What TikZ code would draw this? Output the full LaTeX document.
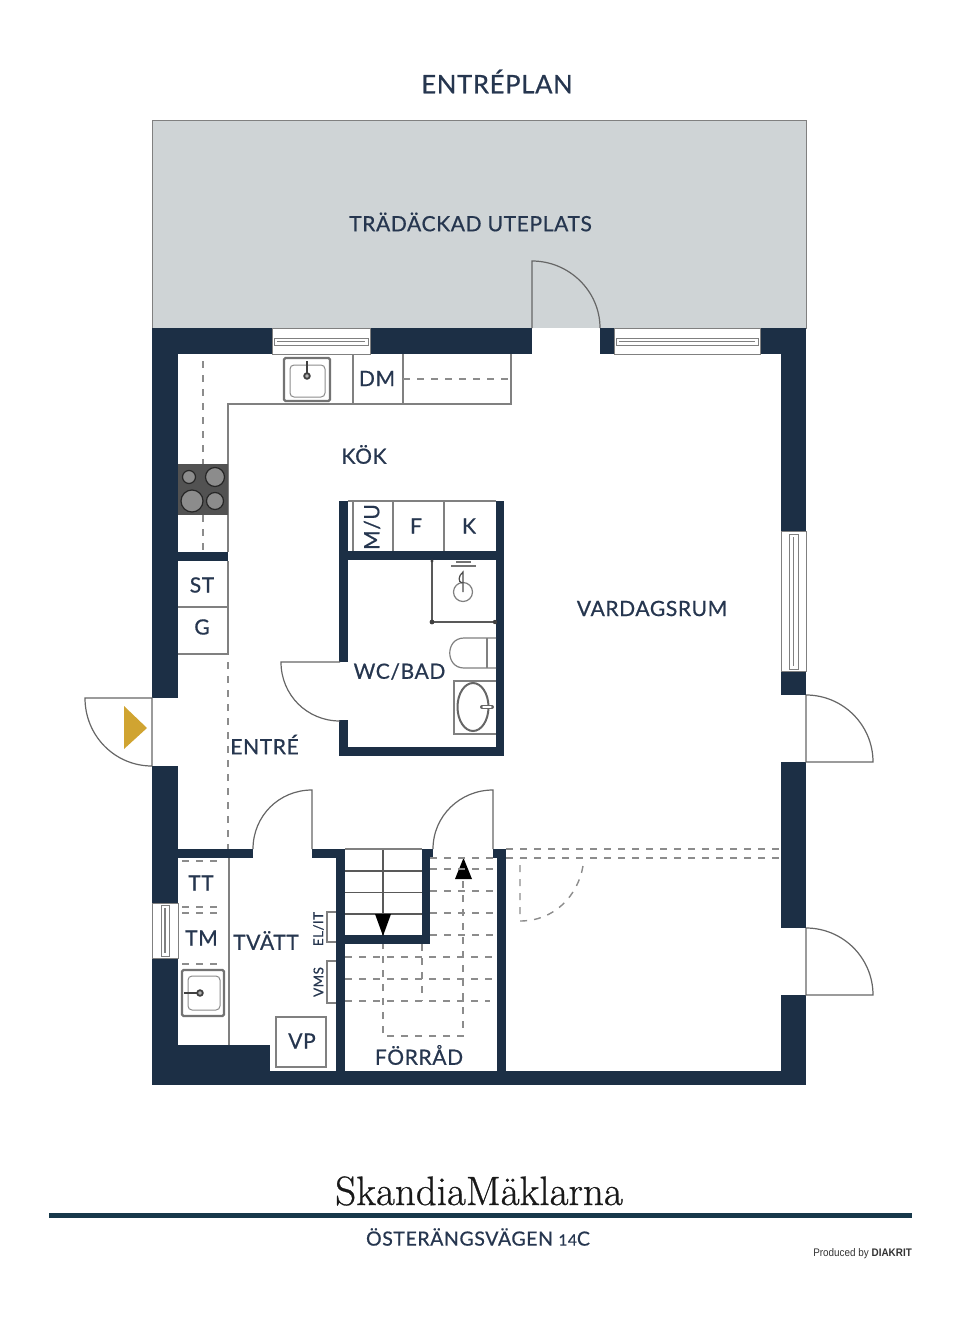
\documentclass[tikz,border=0pt]{standalone}
\usepackage{fontspec}
\newfontfamily\lato[LetterSpace=3,FakeBold=0.7]{Lato}
\newfontfamily\logofont[FakeBold=0.7]{Latin Modern Roman}
\newfontfamily\plain[FakeStretch=0.9]{Liberation Sans}
\definecolor{navy}{HTML}{1C2F45}
\definecolor{ink}{HTML}{26364F}
\definecolor{lin}{HTML}{808080}
\definecolor{deck}{HTML}{CFD4D6}
\definecolor{rule}{HTML}{17384A}
\definecolor{gold}{HTML}{D0A431}
\tikzset{
  wall/.style={fill=navy,draw=none},
  thin line/.style={draw=lin,line width=1.2pt},
  fixture/.style={draw=lin,line width=1.2pt,fill=white},
  dash line/.style={draw=black!45,line width=1.4pt,dash pattern=on 7pt off 7pt},
  win/.style={draw=lin,line width=0.9pt,fill=white},
  door/.style={draw=black!60,line width=1.2pt},
  roomlabel/.style={text=ink,font=\fontsize{21}{21}\selectfont\lato,inner sep=0pt,yshift=1pt},
  smalllabel/.style={text=ink,font=\fontsize{13.5}{14}\selectfont\lato,inner sep=0pt},
  burner/.style={draw=black!85,line width=1.2pt,fill=black!45},
  steel/.style={draw=black!55,line width=2.4pt,fill=white,rounded corners=1.5pt},
  steelin/.style={draw=black!45,line width=1pt,fill=white,rounded corners=4pt},
  tap/.style={draw=black!75,line width=1.8pt},
}
\begin{document}
\begin{tikzpicture}[x=1pt,y=-1pt]
\useasboundingbox (0,0) rectangle (960,1327);
% terrace
\draw[fill=deck,draw=lin,line width=1pt] (152,121) rectangle (806,328);
\fill[white] (532,328) rectangle (600,354);
% outer walls
\fill[wall] (152,328) rectangle (272,354);
\fill[wall] (370,328) rectangle (532,354);
\fill[wall] (600,328) rectangle (614,354);
\fill[wall] (760,328) rectangle (806,354);
\fill[wall] (152,328) rectangle (178,698);
\fill[wall] (152,766) rectangle (178,903);
\fill[wall] (152,958) rectangle (178,1085);
\fill[wall] (781,328) rectangle (806,531);
\fill[wall] (781,671) rectangle (806,695);
\fill[wall] (781,762) rectangle (806,928);
\fill[wall] (781,995) rectangle (806,1085);
\fill[wall] (152,1071) rectangle (806,1085);
\fill[wall] (178,1045) rectangle (270,1071);
% inner walls
\fill[wall] (178,552) rectangle (228,561);
\fill[wall] (178,849) rectangle (253,858);
\fill[wall] (312,849) rectangle (345,858);
\fill[wall] (336,849) rectangle (345,1071);
\fill[wall] (345,935) rectangle (430,944);
\fill[wall] (422,849) rectangle (430,944);
\fill[wall] (422,849) rectangle (433,858);
\fill[wall] (493,849) rectangle (506,858);
\fill[wall] (497,849) rectangle (506,1071);
% wc box
\fill[wall] (339,501) rectangle (348,662);
\fill[wall] (339,720) rectangle (348,756);
\fill[wall] (339,747) rectangle (504,756);
\fill[wall] (496,501) rectangle (504,756);
\fill[wall] (348,551) rectangle (496,560);
% windows
\draw[win] (272,328) rectangle (370,354);
\draw[win] (274,338) rectangle (368,345);
\draw[thin line] (277,341.5) -- (365,341.5);
\draw[win] (614,328) rectangle (760,354);
\draw[win] (616,338) rectangle (758,345);
\draw[thin line] (619,341.5) -- (755,341.5);
\draw[win] (781,531) rectangle (806,671);
\draw[win] (789,534) rectangle (798,669);
\draw[thin line] (793.5,537) -- (793.5,666);
\draw[win] (152,903) rectangle (178,958);
\draw[win] (161,905) rectangle (169,956);
\draw[thin line] (165,908) -- (165,953);
% kitchen counter
\draw[thin line] (228,552) -- (228,404) -- (511,404) -- (511,354);
\draw[thin line] (353,354) -- (353,404);
\draw[thin line] (403,354) -- (403,404);
\draw[dash line] (403,379) -- (511,379);
\draw[dash line] (203,361) -- (203,552);
% sink kitchen
\draw[steel] (284,358) rectangle (330,401);
\draw[steelin] (290,365) rectangle (325,397);
\draw[tap] (307,361) -- (307,374);
\draw[tap,fill=black!30] (307,376) circle[radius=2.8pt];
% stove
\fill[black!68] (178,464) rectangle (228,515);
\draw[burner] (189,477) circle[radius=6.5pt];
\draw[burner] (215,477) circle[radius=9.5pt];
\draw[burner] (192,501) circle[radius=11pt];
\draw[burner] (215,501) circle[radius=8.5pt];
% st g
\draw[thin line] (228,561) -- (228,654) -- (178,654);
\draw[thin line] (178,607) -- (228,607);
\draw[dash line] (228,662) -- (228,849);
% island cabinets
\draw[thin line] (348,501) -- (496,501);
\draw[thin line] (353,501) -- (353,551);
\draw[thin line] (393,501) -- (393,551);
\draw[thin line] (444,501) -- (444,551);
% shower
\draw[draw=black!65,line width=1.6pt] (432,560) -- (432,622) -- (496,622);
\fill[black!75] (432,622) circle[radius=2.4pt] (495,622) circle[radius=2.2pt] (432,561) circle[radius=1.6pt];
\draw[thin line] (463,592) circle[radius=9.5pt];
\draw[draw=black!70,line width=1.2pt] (463,592) -- (463,572) .. controls (458,576) and (458,582) .. (462,583);
\draw[draw=black!55,line width=2.2pt] (451,566) -- (476,566);
\draw[draw=black!55,line width=1.6pt] (456,562) -- (471,562);
% toilet
\draw[thin line] (496,638) -- (464,638) .. controls (445,638) and (445,668) .. (464,668) -- (496,668);
\draw[thin line] (487,638) -- (487,668);
% basin
\draw[thin line] (496,681) -- (454,681) -- (454,734) -- (496,734);
\draw[draw=black!60,line width=2pt] (473,707) ellipse[x radius=15.5pt,y radius=24pt];
\draw[draw=black!60,line width=4pt,line cap=round] (482,707) -- (492,707);
\draw[draw=white,line width=1.4pt,line cap=round] (483,707) -- (491,707);
% tvatt
\draw[thin line] (229,858) -- (229,1045);
\foreach \yy in {861,907,913,964} {\draw[dash line] (182,\yy) -- (221,\yy);}
\draw[steel] (182,970) rectangle (224,1016);
\draw[steelin] (188,976) rectangle (220,1010);
\draw[tap] (184,993) -- (198,993);
\draw[tap,fill=black!30] (200,993) circle[radius=2.8pt];
\draw[fixture] (276,1017) rectangle (326,1067);
\draw[thin line] (336,912) -- (327,912) -- (327,942) -- (336,942);
\draw[thin line] (336,961) -- (327,961) -- (327,1003) -- (336,1003);
% stairs
\draw[draw=black!65,line width=1.2pt] (383,849) -- (383,935);
\foreach \yy in {871,892.5,914} {\draw[draw=black!65,line width=1.2pt] (345,\yy) -- (422,\yy);}
\draw[thin line] (345,849) -- (422,849);
\fill[black] (375,914) -- (391,914) -- (383,936) -- cycle;
\fill[black] (455,879) -- (472,879) -- (463.5,858) -- cycle;
% stair dashes
\foreach \yy in {858,869,891,913,935} {\draw[dash line] (430,\yy) -- (493,\yy);}
\foreach \yy in {957,979} {\draw[dash line] (345,\yy) -- (497,\yy);}
\draw[dash line] (345,1001) -- (490,1001);
\draw[dash line] (463,881) -- (463,1036) -- (383,1036) -- (383,944);
\draw[dash line] (422,944) -- (422,1001);
% dashed right
\draw[dash line] (506,849) -- (781,849);
\draw[dash line] (506,858) -- (781,858);
\draw[dash line] (583,866) .. controls (578,895) and (555,921) .. (520,921) -- (520,858);
% doors
\draw[door] (532,328) -- (532,261) .. controls (569,261) and (600,291) .. (600,328);
\draw[door] (340,662) -- (281,662) .. controls (281,695) and (307,721) .. (340,721);
\draw[door] (152,766) -- (152,698) -- (85,698) .. controls (85,736) and (115,766) .. (152,766);
\draw[door] (806,695) -- (806,762) -- (873,762) .. controls (873,725) and (843,695) .. (806,695);
\draw[door] (806,928) -- (806,995) -- (873,995) .. controls (873,958) and (843,928) .. (806,928);
\draw[door] (312,849) -- (312,790) .. controls (279,790) and (253,816) .. (253,849);
\draw[door] (493,849) -- (493,790) .. controls (460,790) and (433,816) .. (433,849);
\fill[gold] (124,706) -- (147,728) -- (124,749) -- cycle;
% labels
\node[roomlabel,font=\fontsize{25.5}{25}\selectfont\lato] (title) at (497,82.5) {ENTRÉPLAN};
\node[roomlabel] (deck) at (470.5,223) {TRÄDÄCKAD UTEPLATS};
\node[roomlabel] (kok) at (364,455.5) {KÖK};
\node[roomlabel] (dm) at (377,379.5) {DM};
\node[roomlabel] (mu) at (372,528) [rotate=90] {M/U};
\node[roomlabel] (f) at (416,527) {F};
\node[roomlabel] (k) at (469,527) {K};
\node[roomlabel] (vard) at (652,609.5) {VARDAGSRUM};
\node[roomlabel] (st) at (202,586) {ST};
\node[roomlabel] (g) at (202,628) {G};
\node[roomlabel] (wc) at (399.5,672.5) {WC/BAD};
\node[roomlabel] (entre) at (264.5,745.5) {ENTRÉ};
\node[roomlabel] (tt) at (201,884) {TT};
\node[roomlabel] (tm) at (201.5,939) {TM};
\node[roomlabel] (tvatt) at (266,941.5) {TVÄTT};
\node[roomlabel] (vp) at (302,1042) {VP};
\node[roomlabel] (forrad) at (419,1056) {FÖRRÅD};
\node[smalllabel] (elit) at (318.5,929) [rotate=90] {EL/IT};
\node[smalllabel] (vms) at (318.5,982) [rotate=90] {VMS};
% footer
\node[inner sep=0pt,text=black!90,font=\fontsize{41}{41}\selectfont\logofont] (logo) at (479,1191) {SkandiaMäklarna};
\fill[rule] (49,1213) rectangle (912,1218);
\node[roomlabel,font=\fontsize{19.5}{20}\selectfont\lato] (addr) at (478,1238) {ÖSTERÄNGSVÄGEN {\fontsize{15.5}{16}\selectfont 14}C};
\node[inner sep=0pt,anchor=east,text=black!80,font=\fontsize{11}{11}\selectfont\plain] (prod) at (912,1254) {Produced by \textbf{DIAKRIT}};
\end{tikzpicture}
\end{document}
